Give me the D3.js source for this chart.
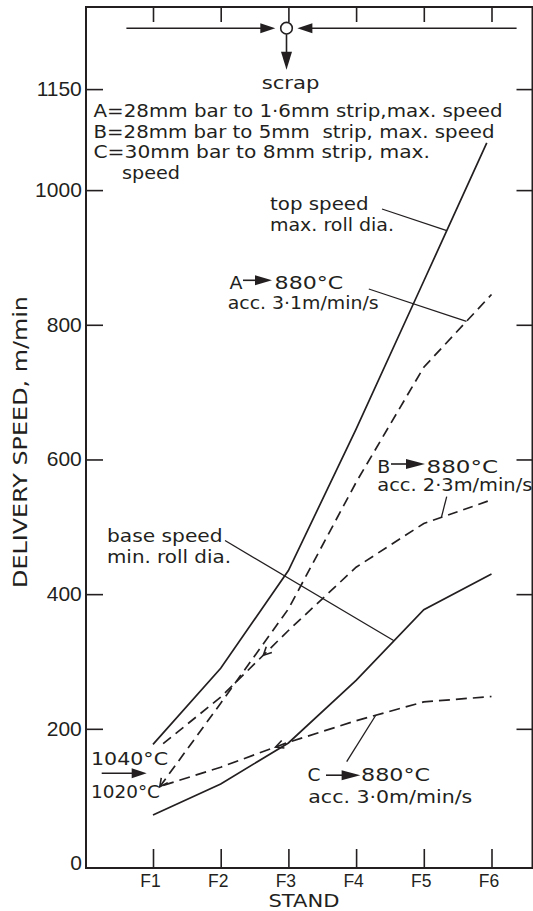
<!DOCTYPE html>
<html>
<head>
<meta charset="utf-8">
<script src="https://cdnjs.cloudflare.com/ajax/libs/d3/7.8.5/d3.min.js"></script>
<style>
  body { margin: 0; background: #fff; }
  svg { display: block; font-family: "DejaVu Sans", sans-serif; }
  text { white-space: pre; }
</style>
</head>
<body>
<script>
// stands along the mill, speed ticks (m/min)
const stands = ["F1", "F2", "F3", "F4", "F5", "F6"];
const speedTicks = [0, 200, 400, 600, 800, 1000, 1150];

// [stand, delivery speed]
const topSpeed  = [[1, 177], [2, 290], [3, 435], [4, 645], [5, 865], [5.93, 1070]];
const baseSpeed = [[1, 72], [2, 118], [3, 179], [4, 272], [5, 377], [6, 430]];
const lineA     = [[1.1, 114], [2, 238], [3, 378], [4, 566], [5, 737], [6, 845]];
const lineB     = [[1.15, 178], [2, 247], [3, 346], [4, 440], [5, 505], [6, 540]];
const lineC     = [[1.15, 116], [2, 143], [3, 180], [4, 212], [5, 240], [6, 248]];

const ink = "#231f20";
const W = 533, H = 911;
const fLeft = 86, fRight = 532.5, fTop = 7, fBottom = 868;

const x = d3.scaleLinear().domain([1, 6]).range([153, 491.5]);
const y = d3.scaleLinear().domain([0, 1150]).range([863.5, 89.1]);

const svg = d3.select("body").append("svg")
  .attr("width", W).attr("height", H);

function valueAt(series, s) {
  for (let i = 1; i < series.length; i++) {
    const [s0, v0] = series[i - 1], [s1, v1] = series[i];
    if (s <= s1) return v0 + (v1 - v0) * (s - s0) / (s1 - s0);
  }
  return series[series.length - 1][1];
}

// filled arrow head, tip at (tx,ty) pointing along ang
function tri(tx, ty, ang, len, half) {
  const bx = tx - len * Math.cos(ang), by = ty - len * Math.sin(ang);
  const px = -Math.sin(ang) * half, py = Math.cos(ang) * half;
  return `M${tx},${ty}L${bx + px},${by + py}L${bx - px},${by - py}Z`;
}
function vee(tx, ty, ang, len, half) {
  const bx = tx - len * Math.cos(ang), by = ty - len * Math.sin(ang);
  const px = -Math.sin(ang) * half, py = Math.cos(ang) * half;
  return `M${bx + px},${by + py}L${tx},${ty}L${bx - px},${by - py}`;
}

// axes (ticks point inward)
const gl = svg.append("g").attr("transform", `translate(${fLeft},0)`)
  .call(d3.axisLeft(y).tickValues(speedTicks).tickFormat(d3.format("d"))
    .tickSizeInner(-17).tickSizeOuter(0).tickPadding(5));
const gr = svg.append("g").attr("transform", `translate(${fRight},0)`)
  .call(d3.axisRight(y).tickValues(speedTicks.slice(1)).tickSizeInner(-16).tickSizeOuter(0).tickFormat(""));
const gb = svg.append("g").attr("transform", `translate(0,${fBottom})`)
  .call(d3.axisBottom(x).tickValues([1, 2, 3, 4, 5, 6]).tickFormat(d => stands[d - 1])
    .tickSizeInner(-19).tickSizeOuter(0).tickPadding(7));
const gt = svg.append("g").attr("transform", `translate(0,${fTop})`)
  .call(d3.axisTop(x).tickValues([1, 2, 3, 4, 5, 6]).tickSizeInner(-15).tickSizeOuter(0).tickFormat(""));

[gl, gr, gb, gt].forEach(g => {
  g.select(".domain").remove();
  g.selectAll(".tick line").attr("stroke", ink).attr("stroke-width", 1.6);
  g.selectAll("text").attr("fill", ink);
});
gl.selectAll(".tick").filter(d => d === 0).select("line").remove();
gl.selectAll("text").style("font-size", "20px").attr("x", -4)
  .attr("transform", "scale(1.05,1)");
gb.selectAll("text").style("font-size", "17.5px").attr("dx", -3);

svg.append("rect")
  .attr("x", fLeft).attr("y", fTop)
  .attr("width", fRight - fLeft).attr("height", fBottom - fTop)
  .attr("fill", "none").attr("stroke", ink).attr("stroke-width", 2);

svg.append("text")
  .attr("x", 304).attr("y", 907)
  .attr("text-anchor", "middle").attr("fill", ink)
  .style("font-size", "17px")
  .attr("textLength", 71).attr("lengthAdjust", "spacingAndGlyphs")
  .text("STAND");

svg.append("text")
  .attr("transform", "translate(27,442) rotate(-90)")
  .attr("text-anchor", "middle").attr("fill", ink)
  .style("font-size", "19.5px")
  .attr("textLength", 292).attr("lengthAdjust", "spacingAndGlyphs")
  .text("DELIVERY SPEED, m/min");

// curves
const line = d3.line().x(d => x(d[0])).y(d => y(d[1]));
const curves = [
  { data: topSpeed, dash: null },
  { data: baseSpeed, dash: null },
  { data: lineA, dash: "10,6" },
  { data: lineB, dash: "10,6" },
  { data: lineC, dash: "11,6" }
];
svg.selectAll(".curve")
  .data(curves)
  .enter()
  .append("path")
  .attr("class", "curve")
  .attr("d", d => line(d.data))
  .attr("fill", "none")
  .attr("stroke", ink)
  .attr("stroke-width", 1.7)
  .attr("stroke-dasharray", d => d.dash);

// little arrow heads sitting on the dashed lines
function headOn(series, s) {
  const v = valueAt(series, s);
  const v2 = valueAt(series, s + 0.2);
  const tx = x(s), ty = y(v);
  const ang = Math.atan2(ty - y(v2), tx - x(s + 0.2));
  return vee(tx, ty, ang, 8, 4);
}
[[lineA, 1.1], [lineB, 2.63], [lineC, 2.81]].forEach(([s, at]) => {
  svg.append("path").attr("d", headOn(s, at))
    .attr("fill", "none").attr("stroke", ink).attr("stroke-width", 1.6);
});

// leader lines from labels to curves
const leaders = [
  { from: [382, 209], series: topSpeed, at: 5.34 },
  { from: [368.8, 289], series: lineA, at: 5.63 },
  { from: [446.7, 496.7], series: lineB, at: 5.26 },
  { from: [225, 540.5], series: baseSpeed, at: 4.56 },
  { from: [346.7, 761.6], series: lineC, at: 4.29 }
];
leaders.forEach(l => {
  svg.append("line")
    .attr("x1", l.from[0]).attr("y1", l.from[1])
    .attr("x2", x(l.at)).attr("y2", y(valueAt(l.series, l.at)))
    .attr("stroke", ink).attr("stroke-width", 1.3);
});

// labels
const labels = [
  { t: "scrap", x: 290.6, y: 89, w: 57.8, anchor: "middle" },
  { t: "A=28mm bar to 1·6mm strip,max. speed", x: 93.5, y: 117.3, w: 409 },
  { t: "B=28mm bar to 5mm  strip, max. speed", x: 93.5, y: 137.7, w: 401 },
  { t: "C=30mm bar to 8mm strip, max.", x: 93.5, y: 158, w: 336.5 },
  { t: "speed", x: 122, y: 178.5, w: 58 },
  { t: "top speed", x: 270, y: 210, w: 98.6 },
  { t: "max. roll dia.", x: 270, y: 231, w: 124 },
  { t: "A", x: 229.4, y: 288.8, w: 13 },
  { t: "880°C", x: 274.6, y: 288.8, w: 68.7 },
  { t: "acc. 3·1m/min/s", x: 227.7, y: 309, w: 151 },
  { t: "B", x: 377.3, y: 472.5, w: 13 },
  { t: "880°C", x: 426.6, y: 472.5, w: 71.4 },
  { t: "acc. 2·3m/min/s", x: 377.3, y: 491.2, w: 155 },
  { t: "base speed", x: 107, y: 542.2, w: 115.6 },
  { t: "min. roll dia.", x: 107, y: 562.6, w: 124 },
  { t: "1040°C", x: 91, y: 765, w: 77 },
  { t: "1020°C", x: 91, y: 798.3, w: 69 },
  { t: "C", x: 307.6, y: 781.3, w: 13 },
  { t: "880°C", x: 361, y: 781.3, w: 69 },
  { t: "acc. 3·0m/min/s", x: 308.3, y: 803, w: 164 }
];
labels.forEach(l => {
  svg.append("text")
    .attr("x", l.x).attr("y", l.y)
    .attr("fill", ink)
    .attr("text-anchor", l.anchor || "start")
    .style("font-size", "17.5px")
    .attr("textLength", l.w).attr("lengthAdjust", "spacingAndGlyphs")
    .text(l.t);
});

// label arrows  A -> 880°C etc.
const arrows = [
  { x1: 243, tip: 272, base: 255, y: 280.3 },
  { x1: 391, tip: 425, base: 406, y: 464 },
  { x1: 326, tip: 360.3, base: 341.6, y: 775.2 },
  { x1: 101.7, tip: 146.7, base: 131.7, y: 773.3 }
];
arrows.forEach(a => {
  svg.append("line").attr("x1", a.x1).attr("x2", a.base + 2)
    .attr("y1", a.y).attr("y2", a.y)
    .attr("stroke", ink).attr("stroke-width", 1.6);
  svg.append("path").attr("d", tri(a.tip, a.y, 0, a.tip - a.base, 5)).attr("fill", ink);
});

// scrap arrows at the top
const cx = 286.5, cy = 28.2;
svg.append("line").attr("x1", 126.4).attr("x2", 262).attr("y1", cy).attr("y2", cy)
  .attr("stroke", ink).attr("stroke-width", 1.6);
svg.append("path").attr("d", tri(275.3, cy, 0, 15, 5)).attr("fill", ink);
svg.append("line").attr("x1", 516.6).attr("x2", 311).attr("y1", cy).attr("y2", cy)
  .attr("stroke", ink).attr("stroke-width", 1.6);
svg.append("path").attr("d", tri(297.4, cy, Math.PI, 15, 5)).attr("fill", ink);
svg.append("circle").attr("cx", cx).attr("cy", cy).attr("r", 5.8)
  .attr("fill", "#fff").attr("stroke", ink).attr("stroke-width", 1.6);
svg.append("line").attr("x1", cx).attr("x2", cx).attr("y1", cy + 6).attr("y2", 53)
  .attr("stroke", ink).attr("stroke-width", 1.6);
svg.append("path").attr("d", tri(cx, 69.7, Math.PI / 2, 18, 5.5)).attr("fill", ink);
</script>
</body>
</html>
